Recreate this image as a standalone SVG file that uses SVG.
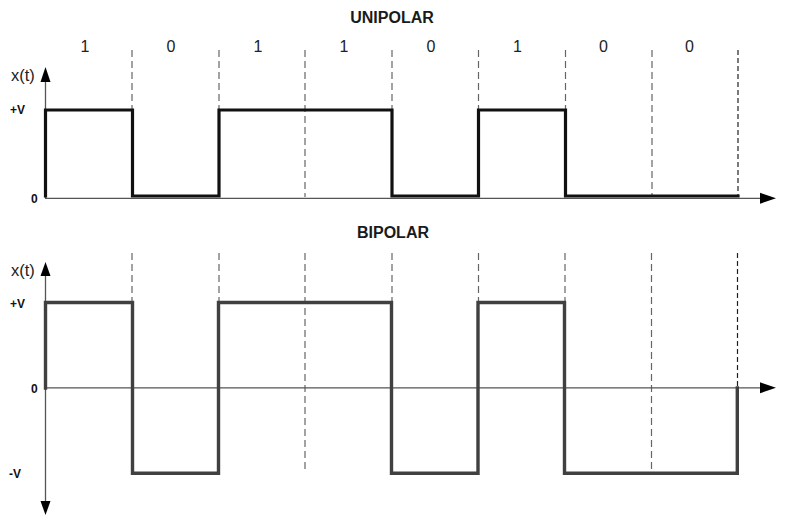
<svg xmlns="http://www.w3.org/2000/svg" width="786" height="518" viewBox="0 0 786 518">
  <style>
    .title { font-family: "Liberation Sans", Arial, sans-serif; font-size: 16px; font-weight: bold; fill: #1a1a1a; text-anchor: middle; }
    .bit { font-family: "Liberation Sans", Arial, sans-serif; font-size: 16px; fill: #222; text-anchor: middle; }
    .ylab { font-family: "Liberation Sans", Arial, sans-serif; font-size: 16.5px; fill: #222; }
    .lvl { font-family: "Liberation Sans", Arial, sans-serif; font-size: 12px; font-weight: bold; fill: #111; }
    .axis { stroke: #555; stroke-width: 1.3; fill: none; }
    .grid { stroke: #666; stroke-width: 1.2; stroke-dasharray: 7 4; fill: none; }
    .grid-end { stroke: #222; stroke-width: 1.2; stroke-dasharray: 5 3; fill: none; }
    .uni { stroke: #111; stroke-width: 3.2; fill: none; stroke-linejoin: miter; stroke-linecap: square; }
    .bip { stroke: #404040; stroke-width: 3.4; fill: none; stroke-linejoin: miter; stroke-linecap: square; }
    .head { fill: #000; }
  </style>
  <rect width="786" height="518" fill="#fff"/>

  <!-- Unipolar encoding -->
  <g id="unipolar">
    <text class="title" x="392" y="22.5">UNIPOLAR</text>
    <g id="unipolar-bits">
      <text class="bit" x="85" y="52">1</text>
      <text class="bit" x="171" y="52">0</text>
      <text class="bit" x="258" y="52">1</text>
      <text class="bit" x="344" y="52">1</text>
      <text class="bit" x="431" y="52">0</text>
      <text class="bit" x="517.5" y="52">1</text>
      <text class="bit" x="603.5" y="52">0</text>
      <text class="bit" x="689.5" y="52">0</text>
    </g>
    <g id="unipolar-bit-boundaries">
      <line class="grid" x1="132" y1="50" x2="132" y2="110"/>
      <line class="grid" x1="219" y1="50" x2="219" y2="110"/>
      <line class="grid" x1="305" y1="50" x2="305" y2="197"/>
      <line class="grid" x1="392" y1="50" x2="392" y2="110"/>
      <line class="grid" x1="478.5" y1="50" x2="478.5" y2="110"/>
      <line class="grid" x1="565.5" y1="50" x2="565.5" y2="110"/>
      <line class="grid" x1="652" y1="50" x2="652" y2="197"/>
      <line class="grid-end" x1="738" y1="50" x2="738" y2="197"/>
    </g>
    <g id="unipolar-axes">
      <line class="axis" x1="45.5" y1="80" x2="45.5" y2="198"/>
      <polygon class="head" points="45.5,67 40.5,82 50.5,82"/>
      <line class="axis" x1="45" y1="198.3" x2="762" y2="198.3"/>
      <polygon class="head" points="776,198.3 760,192.8 760,203.8"/>
      <text class="ylab" x="11" y="81">x(t)</text>
      <text class="lvl" x="10" y="113.5">+V</text>
      <text class="lvl" x="31" y="202.5">0</text>
    </g>
    <path id="unipolar-signal" class="uni" d="M45.5,196 V110 H132.5 V196 H219 V110 H392 V196 H478.5 V110 H565.5 V196 H738"/>
  </g>

  <!-- Bipolar encoding -->
  <g id="bipolar">
    <text class="title" x="393" y="238">BIPOLAR</text>
    <g id="bipolar-bit-boundaries">
      <line class="grid" x1="132" y1="253" x2="132" y2="302"/>
      <line class="grid" x1="219" y1="253" x2="219" y2="302"/>
      <line class="grid" x1="305" y1="253" x2="305" y2="473"/>
      <line class="grid" x1="392" y1="253" x2="392" y2="302"/>
      <line class="grid" x1="478.5" y1="253" x2="478.5" y2="302"/>
      <line class="grid" x1="565" y1="253" x2="565" y2="302"/>
      <line class="grid" x1="651.5" y1="253" x2="651.5" y2="473"/>
      <line class="grid-end" x1="737.5" y1="253" x2="737.5" y2="388"/>
    </g>
    <g id="bipolar-axes">
      <line class="axis" x1="45.5" y1="272" x2="45.5" y2="504"/>
      <polygon class="head" points="45.5,262 40.5,276 50.5,276"/>
      <polygon class="head" points="45.5,515 40.5,501 50.5,501"/>
      <line class="axis" x1="45" y1="387.8" x2="762" y2="387.8"/>
      <polygon class="head" points="776,387.8 760,382.3 760,393.3"/>
      <text class="ylab" x="11" y="276">x(t)</text>
      <text class="lvl" x="10" y="307.5">+V</text>
      <text class="lvl" x="31" y="392.5">0</text>
      <text class="lvl" x="9" y="477.5" font-weight="normal">-V</text>
    </g>
    <path id="bipolar-signal" class="bip" d="M45.5,388 V302.5 H132.5 V473.3 H218.5 V302.5 H391.5 V473.3 H478 V302.5 H564.5 V473.3 H737.3 V388"/>
  </g>
</svg>
